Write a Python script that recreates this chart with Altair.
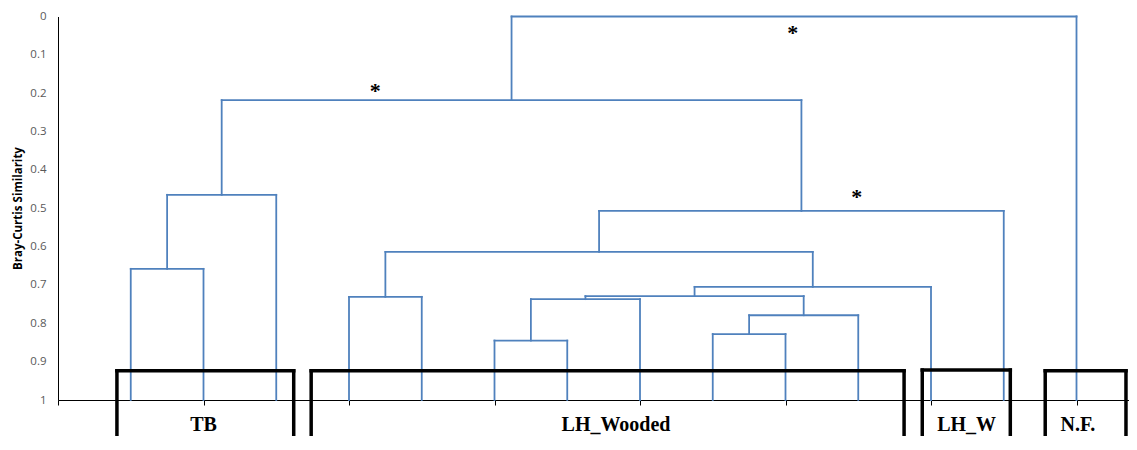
import altair as alt
import pandas as pd

# ---- data ----
leaf_groups = ["TB", "TB", "TB",
               "LH_Wooded", "LH_Wooded", "LH_Wooded", "LH_Wooded",
               "LH_Wooded", "LH_Wooded", "LH_Wooded", "LH_Wooded",
               "LH_W", "LH_W", "N.F."]
leaf_pos = list(range(1, 15))

# merges: node ids 0..13 are leaves, 14.. are merges in this order
merge_left = [0, 14, 3, 5, 17, 8, 19, 18, 21, 16, 23, 15, 25]
merge_right = [1, 2, 4, 6, 7, 9, 10, 20, 11, 22, 12, 24, 13]
merge_height = [0.658, 0.465, 0.731, 0.845, 0.737, 0.828, 0.779,
                0.729, 0.705, 0.614, 0.507, 0.218, 0.0]

group_labels = ["TB", "LH_Wooded", "LH_W", "N.F."]
box_left = [0.81, 3.48, 11.88, 13.57]
box_right = [3.24, 11.63, 13.09, 14.68]
box_top = [0.924, 0.924, 0.922, 0.924]
box_bottom = [1.14, 1.14, 1.14, 1.14]
label_x = [2.0, 7.67, 12.49, 14.02]
label_y = [1.081, 1.081, 1.081, 1.081]

star_x = [10.10, 4.36, 10.98]
star_y = [0.062, 0.212, 0.488]

y_ticks = [0, 0.1, 0.2, 0.3, 0.4, 0.5, 0.6, 0.7, 0.8, 0.9, 1]
x_ticks = [0, 2, 4, 6, 8, 10, 12, 14]

# ---- build dendrogram segments ----
node_x = {i: p for i, p in enumerate(leaf_pos)}
node_h = {i: 1.0 for i in range(len(leaf_pos))}
segs = []
for k, (l, r, h) in enumerate(zip(merge_left, merge_right, merge_height)):
    nid = len(leaf_pos) + k
    xl, xr = node_x[l], node_x[r]
    segs.append(dict(x=xl, x2=xr, y=h, y2=h))
    segs.append(dict(x=xl, x2=xl, y=h, y2=node_h[l]))
    segs.append(dict(x=xr, x2=xr, y=h, y2=node_h[r]))
    node_x[nid] = (xl + xr) / 2
    node_h[nid] = h
seg_df = pd.DataFrame(segs)

boxes = []
for a, b, t, bt in zip(box_left, box_right, box_top, box_bottom):
    boxes.append(dict(x=a, x2=a, y=t, y2=bt))
    boxes.append(dict(x=a, x2=b, y=t, y2=t))
    boxes.append(dict(x=b, x2=b, y=t, y2=bt))
box_df = pd.DataFrame(boxes)

lab_df = pd.DataFrame(dict(x=label_x, y=label_y, t=group_labels))
star_df = pd.DataFrame(dict(x=star_x, y=star_y, t=["*"] * 3))

PLOT_W = 1071
XMAX = PLOT_W / 72.75
xs = alt.Scale(domain=[0, XMAX], nice=False, zero=False)
ys = alt.Scale(domain=[0, 1], reverse=True, nice=False, zero=False)

x_axis = alt.Axis(values=x_ticks, labels=False, ticks=True, tickSize=5,
                  tickColor="black", domainColor="black", grid=False,
                  title=None, domainWidth=1)
y_axis = alt.Axis(values=y_ticks, tickCount=11, format="~g", ticks=False, grid=False,
                  labelOverlap=False,
                  domainColor="black", labelColor="#595959", labelFont="Open Sans",
                  labelFontSize=11.5, labelPadding=12,
                  title="Bray-Curtis Similarity", titleFont="Open Sans",
                  titleFontSize=11.5, titleFontWeight="bold", titleColor="black",
                  titleX=-35, titleY=191.5, titleAngle=-90)

X = alt.X("x:Q", scale=xs, axis=x_axis)
Y = alt.Y("y:Q", scale=ys, axis=y_axis)

dendro = alt.Chart(seg_df).mark_rule(color="#4F81BD", strokeWidth=1.8, strokeCap="square").encode(
    x=X, x2="x2:Q", y=Y, y2="y2:Q",
)

box = alt.Chart(box_df).mark_rule(color="black", strokeWidth=3.5, strokeCap="square").encode(
    x=X, x2="x2:Q", y=Y, y2="y2:Q",
)

labels = alt.Chart(lab_df).mark_text(font="Liberation Serif", fontWeight="bold",
                                     fontSize=20, color="black", baseline="alphabetic",
                                     align="center").encode(
    x=X, y=Y, text="t:N")

stars = alt.Chart(star_df).mark_text(font="Liberation Serif", fontWeight="bold",
                                     fontSize=22, color="black", baseline="alphabetic",
                                     align="center").encode(
    x=X, y=Y, text="t:N")

chart = alt.layer(dendro, box, labels, stars).properties(
    width=PLOT_W, height=383.5,
    autosize=alt.AutoSizeParams(type="none"),
    padding={"left": 50, "top": 8.5, "right": 0, "bottom": 36},
).configure_view(stroke=None)

chart.save("out.html", embed_options={"renderer": "svg", "actions": False})
